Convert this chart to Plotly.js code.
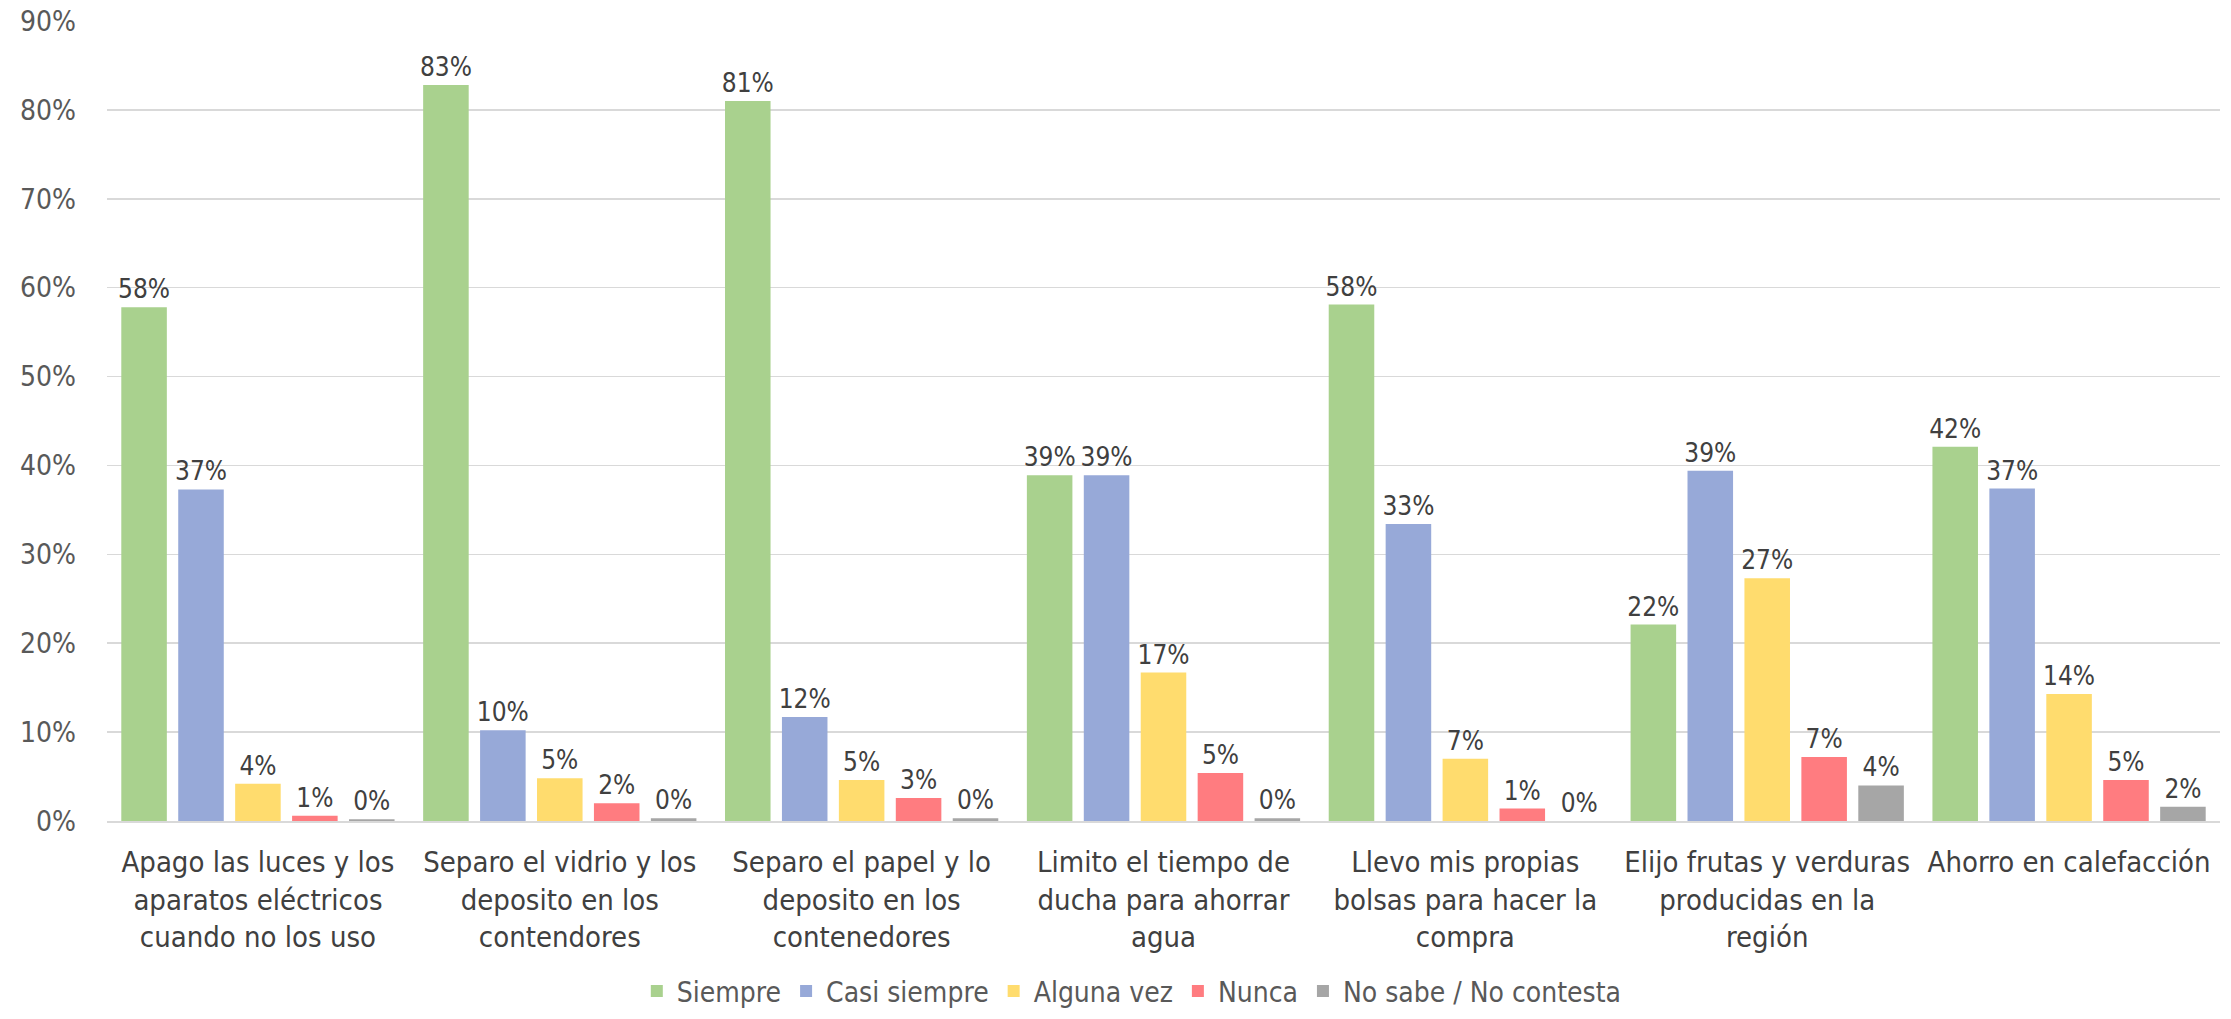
<!DOCTYPE html>
<html>
<head>
<meta charset="utf-8">
<script src="https://cdn.plot.ly/plotly-3.0.1.min.js"></script>
<style>html,body{margin:0;padding:0;background:#fff;}#chart{width:2231px;height:1019px;}</style>
</head>
<body>
<div id="chart"></div>
<script>
const categories = [
  "Apago las luces y los<br>aparatos eléctricos<br>cuando no los uso",
  "Separo el vidrio y los<br>deposito en los<br>contendores",
  "Separo el papel y lo<br>deposito en los<br>contenedores",
  "Limito el tiempo de<br>ducha para ahorrar<br>agua",
  "Llevo mis propias<br>bolsas para hacer la<br>compra",
  "Elijo frutas y verduras<br>producidas en la<br>región",
  "Ahorro en calefacción"
];
const seriesNames = ["Siempre", "Casi siempre", "Alguna vez", "Nunca", "No sabe / No contesta"];
const siempre      = [57.8, 82.8, 81.0, 38.9, 58.1, 22.1, 42.1];
const casiSiempre  = [37.3, 10.2, 11.7, 38.9, 33.4, 39.4, 37.4];
const algunaVez    = [4.2, 4.8, 4.6, 16.7, 7.0, 27.3, 14.3];
const nunca        = [0.6, 2.0, 2.6, 5.4, 1.4, 7.2, 4.6];
const noSabe       = [0.2, 0.3, 0.3, 0.3, 0.0, 4.0, 1.6];
const colors = ["#A9D18E", "#97A9D8", "#FFDC6E", "#FF7C80", "#A6A6A6"];

const FONT = "'Liberation Sans Narrow', 'DejaVu Sans Condensed', 'Open Sans', sans-serif";
const allSeries = [siempre, casiSiempre, algunaVez, nunca, noSabe];
const traces = allSeries.map((vals, i) => ({
  type: 'bar',
  name: seriesNames[i],
  x: categories,
  y: vals,
  marker: {color: colors[i]},
  texttemplate: '%{y:.0f}%',
  textposition: 'outside',
  constraintext: 'none',
  textfont: {family: FONT, size: 26, color: '#404040'},
  cliponaxis: false,
  hoverinfo: 'x+y'
}));

const layout = {
  width: 2231, height: 1019,
  margin: {l: 107, r: 11, t: 21, b: 198, autoexpand: false},
  paper_bgcolor: '#fff', plot_bgcolor: '#fff',
  barmode: 'group',
  bargap: 0.057,
  bargroupgap: 0.2,
  font: {family: FONT, size: 28, color: '#404040'},
  xaxis: {
    showline: true, linecolor: '#D9D9D9', linewidth: 2,
    showgrid: false, ticks: '',
    ticklabelstandoff: 14,
    tickfont: {family: FONT, size: 29, color: '#404040'},
    automargin: false
  },
  yaxis: {
    range: [0, 90], dtick: 10, ticksuffix: '%',
    showgrid: true, gridcolor: '#D9D9D9', gridwidth: 1.5,
    zeroline: false, showline: false, ticks: '',
    ticklabelstandoff: 30,
    tickfont: {family: FONT, size: 28, color: '#595959'},
    automargin: false
  },
  legend: {
    orientation: 'h', x: 0.485, xanchor: 'center', y: -0.213, yanchor: 'middle',
    font: {family: FONT, size: 28, color: '#595959'},
    itemclick: false
  },
  showlegend: true
};

Plotly.newPlot('chart', traces, layout, {displayModeBar: false, staticPlot: true});
</script>
</body>
</html>
